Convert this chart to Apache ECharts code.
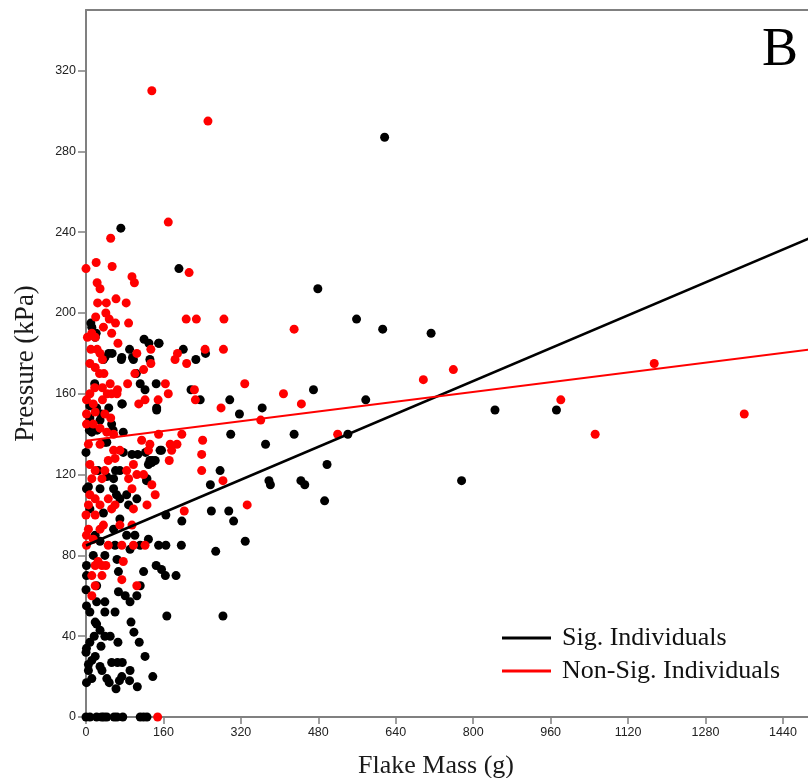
<!DOCTYPE html>
<html><head><meta charset="utf-8">
<script src="https://cdn.jsdelivr.net/npm/echarts@6/dist/echarts.min.js"></script>
<style>html,body{margin:0;padding:0;background:#fff;overflow:hidden}#c{width:808px;height:778px}</style>
</head><body><div id="c"></div><script>
// Flake mass (g), pressure (kPa) pairs — significant individuals (black)
const sigPoints = [
[72,242],[192,222],[201,182],[227,177],[247,180],[479,212],[559,197],[613,192],[713,190],[617,287],
[236,157],[297,157],[364,153],[470,162],[578,157],[845,152],[972,152],[541,140],[430,140],[299,140],
[498,125],[776,117],[444,117],[452,115],[493,107],[317,150],[371,135],[277,122],[257,115],[378,117],
[381,115],[259,102],[295,102],[305,97],[329,87],[268,82],[283,50],[167,50],[198,97],[197,85],
[165,85],[150,85],[145,75],[156,73],[164,70],[186,70],[165,100],[122,30],[138,20],[119,72],
[0,0],[8,0],[22,0],[32,0],[37,0],[43,0],[58,0],[64,0],[76,0],[112,0],[119,0],[126,0],
[10,195],[12,193],[19,188],[120,187],[130,185],[150,185],[90,182],[54,180],[47,180],[36,177],
[73,177],[98,177],[132,177],[104,170],[18,165],[112,165],[145,165],[122,162],[217,162],[75,155],
[146,153],[22,153],[47,153],[8,154],[146,152],[8,148],[29,147],[53,145],[12,141],[153,132],
[77,131],[95,130],[0,131],[39,136],[143,127],[132,127],[70,122],[126,118],[57,118],[1,113],
[29,113],[57,113],[84,110],[70,108],[88,105],[8,103],[36,101],[70,98],[57,93],[84,90],
[101,90],[19,90],[29,87],[60,85],[91,83],[112,85],[129,88],[15,80],[39,80],[64,78],
[1,75],[137,127],[129,125],[21,190],[39,178],[74,178],[96,178],[151,185],[74,155],[31,150],
[7,142],[23,142],[56,142],[77,141],[43,136],[107,130],[123,131],[136,126],[156,132],[61,122],
[25,122],[43,119],[125,117],[5,114],[105,108],[63,110],
[67,72],[1,70],[112,65],[0,63],[22,65],[67,62],[81,60],[91,57],[105,60],[39,57],
[22,57],[1,55],[8,52],[39,52],[60,52],[22,46],[19,47],[29,43],[39,40],[50,40],
[93,47],[99,42],[110,37],[66,37],[17,40],[8,37],[1,34],[0,32],[31,35],[19,30],
[12,28],[5,26],[53,27],[65,27],[75,27],[29,25],[33,23],[91,23],[5,23],[43,19],
[74,20],[69,18],[90,18],[106,15],[48,17],[62,14],[1,17],[12,19]
];
// Non-significant individuals (red)
const nonSigPoints = [
[136,310],[252,295],[51,237],[170,245],[0,222],[21,225],[54,223],[213,220],[95,218],[100,215],
[207,197],[228,197],[285,197],[430,192],[246,182],[284,182],[189,180],[184,177],[208,175],[328,165],
[408,160],[279,153],[445,155],[697,167],[759,172],[1174,175],[981,157],[1360,150],[1052,140],[520,140],
[361,147],[241,137],[239,130],[239,122],[283,117],[333,105],[203,102],[148,0],
[23,215],[29,212],[24,205],[42,205],[62,207],[83,205],[41,200],[20,198],[48,197],[61,195],
[88,195],[36,193],[12,190],[53,190],[3,188],[19,188],[66,185],[10,182],[23,182],[134,182],
[105,180],[29,180],[34,177],[8,175],[19,173],[28,170],[37,170],[119,172],[134,175],[101,170],
[164,165],[86,165],[50,165],[18,163],[34,163],[65,162],[44,160],[8,160],[122,157],[149,157],
[170,160],[224,162],[226,157],[1,157],[34,157],[64,160],[109,155],[15,155],[53,160],
[1,150],[19,151],[39,150],[51,148],[1,145],[15,145],[29,143],[43,141],[57,140],[115,137],
[150,140],[198,140],[132,135],[174,135],[188,135],[172,127],[177,132],[129,132],[57,132],[70,132],
[5,135],[29,135],[60,128],[46,127],[8,125],[19,122],[39,122],[98,125],[84,122],[105,120],
[119,120],[136,115],[88,118],[12,118],[33,118],[95,113],[143,110],[8,110],[19,108],[46,108],
[126,105],[98,103],[5,105],[29,105],[60,105],[53,103],[0,100],[19,100],[70,95],[95,95],
[36,95],[5,93],[29,93],[1,90],[15,88],[1,85],[46,85],[74,85],[98,85],[122,85],
[25,77],[77,77],[33,75],[19,75],[41,75],[12,70],[33,70],[74,68],[105,65],[19,65],[12,60]
];
// Regression line end points
const sigLineMass = [0, 1500];
const sigLinePressure = [84.9, 237.5];
const nonSigLineMass = [0, 1500];
const nonSigLinePressure = [136.8, 182.0];
const xTicks = [0,160,320,480,640,800,960,1120,1280,1440];
const yTicks = [0,40,80,120,160,200,240,280,320];
const seriesNames = ['Sig. Individuals','Non-Sig. Individuals'];

const chart = echarts.init(document.getElementById('c'), null, {renderer:'canvas'});
const axisGrey = '#808080';
const serif = 'Liberation Serif';
const plain = v => String(v);
chart.setOption({
  animation:false,
  backgroundColor:'#fff',
  grid:{left:86, top:10, right:-4, bottom:61, show:false, containLabel:false, outerBoundsMode:'none'},
  xAxis:[{
    type:'value', min:0, max:1500,
    name:'Flake Mass (g)', nameLocation:'middle', nameGap:36,
    nameTextStyle:{fontFamily:serif, fontSize:26, color:'#1a1a1a', padding:[0,26,0,0]},
    axisLine:{show:true, lineStyle:{color:axisGrey, width:2}},
    axisTick:{show:true, customValues:xTicks, length:7, lineStyle:{color:axisGrey, width:1.5}},
    axisLabel:{customValues:xTicks, formatter:plain, fontFamily:'Liberation Sans', fontSize:12.5, color:'#222', margin:9},
    splitLine:{show:false}
  },{
    type:'value', min:0, max:1500, position:'top',
    axisLine:{show:true, onZero:false, lineStyle:{color:axisGrey, width:2}},
    axisTick:{show:false}, axisLabel:{show:false}, splitLine:{show:false}
  }],
  yAxis:{
    type:'value', min:0, max:350,
    name:'Pressure (kPa)', nameLocation:'middle', nameGap:47,
    nameTextStyle:{fontFamily:serif, fontSize:27, color:'#1a1a1a'},
    axisLine:{show:true, lineStyle:{color:axisGrey, width:2}},
    axisTick:{show:true, customValues:yTicks, length:8, lineStyle:{color:axisGrey, width:1.5}},
    axisLabel:{customValues:yTicks, formatter:plain, fontFamily:'Liberation Sans', fontSize:12.5, color:'#222', margin:10},
    splitLine:{show:false}
  },
  legend:{
    orient:'vertical', left:497, top:620, itemWidth:49, itemHeight:3, itemGap:7,
    data:[{name:seriesNames[0], icon:'rect'},{name:seriesNames[1], icon:'rect'}],
    textStyle:{fontFamily:serif, fontSize:26, color:'#111', padding:[0,0,0,6]}
  },
  graphic:[{type:'text', right:10, top:24, style:{text:'B', font:'54px "Liberation Serif"', fill:'#000'}}],
  series:[
    {type:'scatter', name:'sigPts', data:sigPoints, symbolSize:9, itemStyle:{color:'#000', opacity:1}, z:2},
    {type:'scatter', name:'nonSigPts', data:nonSigPoints, symbolSize:9, itemStyle:{color:'#ff0000', opacity:1}, z:3},
    {type:'line', name:seriesNames[0], data:sigLineMass.map((m,i)=>[m, sigLinePressure[i]]), showSymbol:false, lineStyle:{color:'#000', width:2.5}, itemStyle:{color:'#000'}, z:4},
    {type:'line', name:seriesNames[1], data:nonSigLineMass.map((m,i)=>[m, nonSigLinePressure[i]]), showSymbol:false, lineStyle:{color:'#ff0000', width:2}, itemStyle:{color:'#ff0000'}, z:4}
  ]
});
</script></body></html>
